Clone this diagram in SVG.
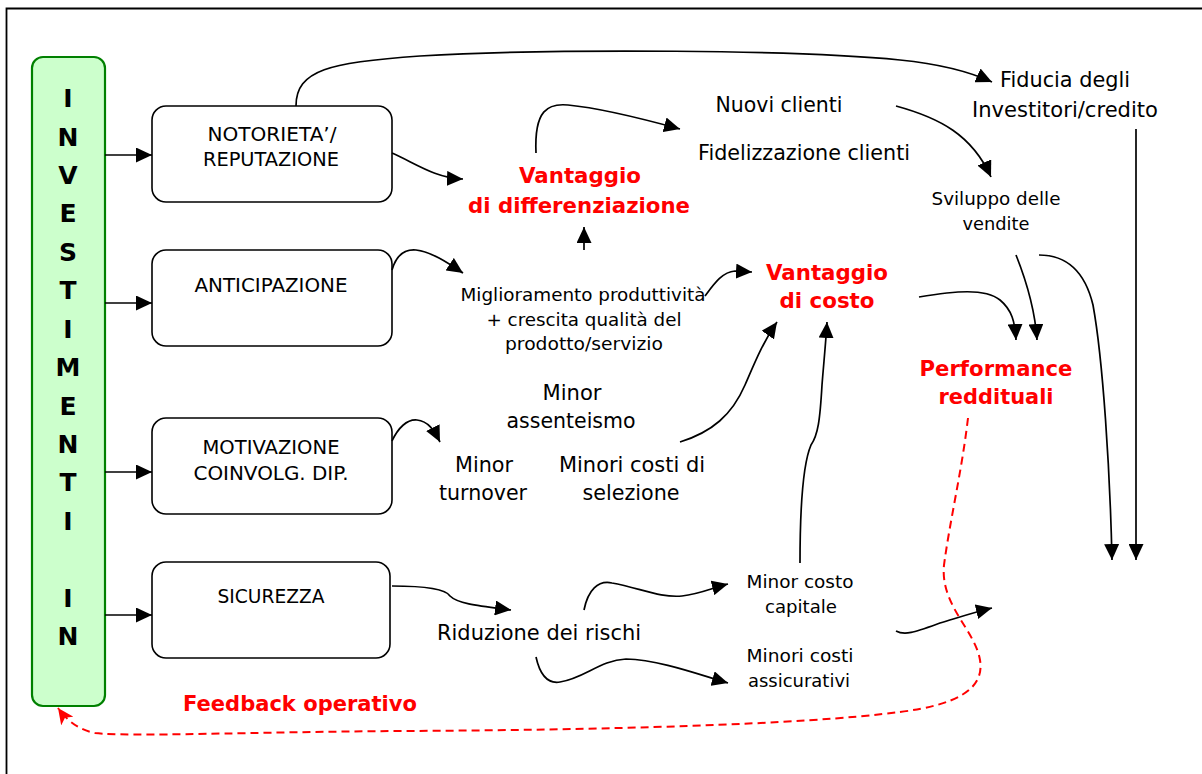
<svg xmlns="http://www.w3.org/2000/svg" width="1202" height="774" viewBox="0 0 1202 774">
<style>
.frame{fill:none;stroke:#000;stroke-width:1.8}
.inv{fill:#ccffcc;stroke:#008000;stroke-width:2.2}
.box{fill:#fff;stroke:#000;stroke-width:1.6}
text{font-family:"DejaVu Sans","Liberation Sans",sans-serif;text-anchor:middle;fill:#000}
.big{font-family:"DejaVu Sans","Liberation Sans",sans-serif;font-weight:bold;font-size:25px}
.bx{font-size:19px}
.m{font-size:21px}
.s{font-size:18px}
.xs{font-size:17px}
.red{fill:#ff0000;font-weight:bold;font-size:22px}
.c{fill:none;stroke:#000;stroke-width:1.7;marker-end:url(#ah)}
.fb{fill:none;stroke:#ff0000;stroke-width:2;stroke-dasharray:8 5;marker-end:url(#rh)}
</style>
<defs>
<marker id="ah" markerUnits="userSpaceOnUse" markerWidth="17" markerHeight="15" refX="16" refY="7.5" orient="auto">
<path d="M0,0 L16,7.5 L0,15 z" fill="#000"/>
</marker>
<marker id="rh" markerUnits="userSpaceOnUse" markerWidth="17" markerHeight="15" refX="16" refY="7.5" orient="auto">
<path d="M0,0 L16,7.5 L0,15 L4,7.5 z" fill="#ff0000"/>
</marker>
</defs>
<path class="frame" d="M6.5,774 V8.5 H1202"/>

<g id="investimenti">
<rect class="inv" x="32" y="57" width="73" height="649" rx="11"/>
<text class="big" x="68" y="107">I</text>
<text class="big" x="68" y="146">N</text>
<text class="big" x="68" y="184">V</text>
<text class="big" x="68" y="222">E</text>
<text class="big" x="68" y="261">S</text>
<text class="big" x="68" y="299">T</text>
<text class="big" x="68" y="338">I</text>
<text class="big" x="68" y="376">M</text>
<text class="big" x="68" y="415">E</text>
<text class="big" x="68" y="453">N</text>
<text class="big" x="68" y="491">T</text>
<text class="big" x="68" y="530">I</text>
<text class="big" x="68" y="607">I</text>
<text class="big" x="68" y="645">N</text>
</g>

<g id="notorieta">
<rect class="box" x="152" y="106" width="240" height="96" rx="14"/>
<text class="bx" x="272" y="141" textLength="129" lengthAdjust="spacingAndGlyphs">NOTORIETA’/</text>
<text class="bx" x="271" y="166" textLength="136" lengthAdjust="spacingAndGlyphs">REPUTAZIONE</text>
</g>
<g id="anticipazione">
<rect class="box" x="152" y="250" width="240" height="96" rx="14"/>
<text class="bx" x="271" y="292" textLength="153" lengthAdjust="spacingAndGlyphs">ANTICIPAZIONE</text>
</g>
<g id="motivazione">
<rect class="box" x="152" y="418" width="240" height="96" rx="14"/>
<text class="bx" x="271" y="454" textLength="137" lengthAdjust="spacingAndGlyphs">MOTIVAZIONE</text>
<text class="bx" x="271" y="480" textLength="155" lengthAdjust="spacingAndGlyphs">COINVOLG. DIP.</text>
</g>
<g id="sicurezza">
<rect class="box" x="152" y="562" width="238" height="96" rx="14"/>
<text class="bx" x="271" y="603" textLength="107" lengthAdjust="spacingAndGlyphs">SICUREZZA</text>
</g>

<g id="vantaggio-differenziazione">
<text class="red" x="580" y="183" textLength="122" lengthAdjust="spacingAndGlyphs">Vantaggio</text>
<text class="red" x="579" y="213" textLength="222" lengthAdjust="spacingAndGlyphs">di differenziazione</text>
</g>
<g id="clienti">
<text class="m" x="779" y="112" textLength="127" lengthAdjust="spacingAndGlyphs">Nuovi clienti</text>
<text class="m" x="804" y="160" textLength="212" lengthAdjust="spacingAndGlyphs">Fidelizzazione clienti</text>
</g>
<g id="fiducia">
<text class="m" x="1065" y="87" textLength="130" lengthAdjust="spacingAndGlyphs">Fiducia degli</text>
<text class="m" x="1065" y="117" textLength="186" lengthAdjust="spacingAndGlyphs">Investitori/credito</text>
</g>
<g id="sviluppo">
<text class="xs" x="996" y="205" textLength="129" lengthAdjust="spacingAndGlyphs">Sviluppo delle</text>
<text class="xs" x="996" y="230" textLength="67" lengthAdjust="spacingAndGlyphs">vendite</text>
</g>
<g id="vantaggio-costo">
<text class="red" x="827" y="280" textLength="122" lengthAdjust="spacingAndGlyphs">Vantaggio</text>
<text class="red" x="827" y="308" textLength="95" lengthAdjust="spacingAndGlyphs">di costo</text>
</g>
<g id="miglioramento">
<text class="s" x="583" y="301" textLength="245" lengthAdjust="spacingAndGlyphs">Miglioramento produttività</text>
<text class="s" x="584" y="326" textLength="195" lengthAdjust="spacingAndGlyphs">+ crescita qualità del</text>
<text class="s" x="584" y="350" textLength="158" lengthAdjust="spacingAndGlyphs">prodotto/servizio</text>
</g>
<g id="assenteismo">
<text class="m" x="572" y="400" textLength="59" lengthAdjust="spacingAndGlyphs">Minor</text>
<text class="m" x="571" y="428" textLength="129" lengthAdjust="spacingAndGlyphs">assenteismo</text>
</g>
<g id="turnover">
<text class="m" x="484" y="472" textLength="58" lengthAdjust="spacingAndGlyphs">Minor</text>
<text class="m" x="483" y="500" textLength="88" lengthAdjust="spacingAndGlyphs">turnover</text>
</g>
<g id="selezione">
<text class="m" x="632" y="472" textLength="146" lengthAdjust="spacingAndGlyphs">Minori costi di</text>
<text class="m" x="631" y="500" textLength="97" lengthAdjust="spacingAndGlyphs">selezione</text>
</g>
<g id="rischi">
<text class="m" x="539" y="640" textLength="204" lengthAdjust="spacingAndGlyphs">Riduzione dei rischi</text>
</g>
<g id="costo-capitale">
<text class="s" x="800" y="588" textLength="107" lengthAdjust="spacingAndGlyphs">Minor costo</text>
<text class="s" x="801" y="613" textLength="72" lengthAdjust="spacingAndGlyphs">capitale</text>
</g>
<g id="costi-assicurativi">
<text class="s" x="800" y="662" textLength="107" lengthAdjust="spacingAndGlyphs">Minori costi</text>
<text class="s" x="799" y="687" textLength="102" lengthAdjust="spacingAndGlyphs">assicurativi</text>
</g>
<g id="performance">
<text class="red" x="996" y="376" textLength="153" lengthAdjust="spacingAndGlyphs">Performance</text>
<text class="red" x="996" y="404" textLength="115" lengthAdjust="spacingAndGlyphs">reddituali</text>
</g>
<g id="feedback">
<text class="red" x="300" y="711" textLength="234" lengthAdjust="spacingAndGlyphs">Feedback operativo</text>
</g>

<g id="connectors">
<path class="c" d="M105,155 H152"/>
<path class="c" d="M105,303 H152"/>
<path class="c" d="M105,472 H152"/>
<path class="c" d="M105,615 H152"/>
<path class="c" d="M296,106 C296,70 330,62 420,56 C560,48 800,50 900,60 C940,64 968,71 992,82"/>
<path class="c" d="M392,153 C415,163 435,178 463,179"/>
<path class="c" d="M536,153 C534,110 548,103 568,105 C600,108 640,118 680,129"/>
<path class="c" d="M584,250 L584,227"/>
<path class="c" d="M392,270 C396,256 404,249 416,250 C432,252 448,263 463,273"/>
<path class="c" d="M705,296 C714,284 722,272 735,271 L752,272"/>
<path class="c" d="M680,442 C712,432 732,415 745,385 C755,362 763,342 777,322"/>
<path class="c" d="M392,441 C398,428 407,419 417,420 C428,421 434,430 440,442"/>
<path class="c" d="M919,297 C955,291 985,288 1000,300 C1012,310 1015,322 1016,340"/>
<path class="c" d="M1016,255 C1028,285 1035,310 1037,340"/>
<path class="c" d="M1039,255 C1068,255 1085,272 1093,305 C1103,360 1110,470 1112,560"/>
<path class="c" d="M1136,129 L1136,560"/>
<path class="c" d="M896,106 C940,118 972,135 991,177"/>
<path class="c" d="M800,563 C800,510 802,466 811,445 C818,435 820,420 822,385 C824,360 826,340 827,322"/>
<path class="c" d="M584,610 C588,590 598,580 612,583 C640,588 660,598 682,596 C700,594 712,588 728,584"/>
<path class="c" d="M536,657 C540,675 548,684 560,682 C585,678 600,660 626,659 C660,660 700,675 728,683"/>
<path class="c" d="M896,631 C905,636 915,632 940,623 C960,617 975,612 992,608"/>
<path class="c" d="M392,586 C420,586 445,588 450,596 C458,604 480,606 511,610"/>
<path class="fb" d="M968,418 C962,470 950,520 944,565 C940,605 975,630 980,660 C985,690 955,705 900,712 C800,725 600,730 400,731 C250,732 130,737 95,733 C80,730 68,722 58,708"/>
</g>
</svg>
